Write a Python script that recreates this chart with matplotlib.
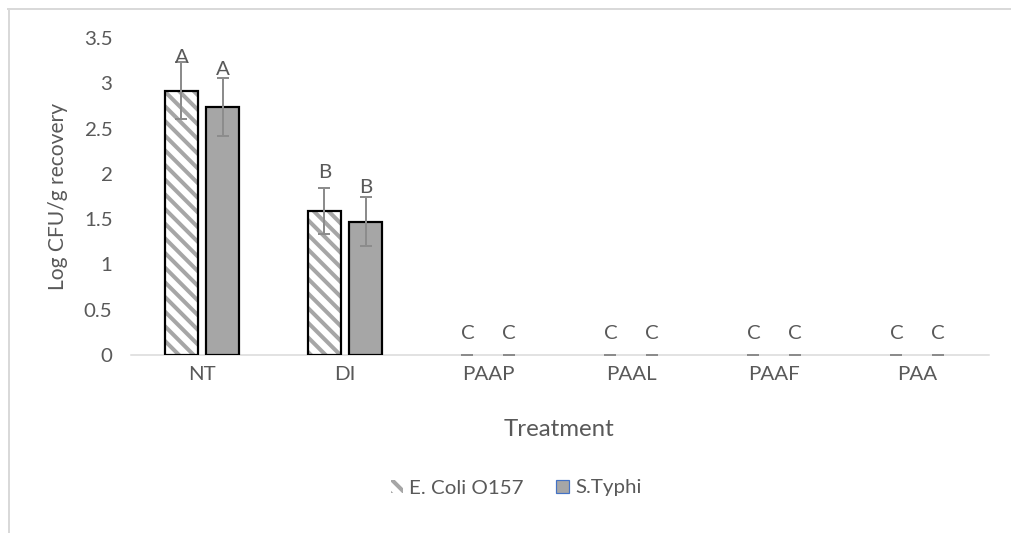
import matplotlib
matplotlib.use("Agg")
import matplotlib.pyplot as plt
import numpy as np
from matplotlib.lines import Line2D
from matplotlib.patches import Patch

categories = ["NT", "DI", "PAAP", "PAAL", "PAAF", "PAA"]
ecoli = [2.92, 1.59, 0, 0, 0, 0]
ecoli_err = [0.31, 0.25, 0, 0, 0, 0]
styphi = [2.74, 1.47, 0, 0, 0, 0]
styphi_err = [0.32, 0.27, 0, 0, 0, 0]
ecoli_letters = ["A", "B", "C", "C", "C", "C"]
styphi_letters = ["A", "B", "C", "C", "C", "C"]
ecoli_letter_y = [3.29, 2.01, 0.24, 0.24, 0.24, 0.24]
styphi_letter_y = [3.15, 1.85, 0.24, 0.24, 0.24, 0.24]
yticks = [0, 0.5, 1, 1.5, 2, 2.5, 3, 3.5]
ytick_labels = ["0", "0.5", "1", "1.5", "2", "2.5", "3", "3.5"]

DPI = 132
W, H = 1011, 533
def pt(px):
    return px * 72.0 / DPI

plt.rcParams['font.family'] = ['Lato', 'DejaVu Sans']
plt.rcParams['hatch.linewidth'] = 2.2
plt.rcParams['hatch.color'] = '#a6a6a6'

fig = plt.figure(figsize=(W / DPI, H / DPI), dpi=DPI)
ax = fig.add_axes([130.5 / W, 178 / H, 858 / W, 317 / H])

text_col = '#595959'
x = np.arange(len(categories))
bw = 0.232
gap = 0.056
xe = x - (bw + gap) / 2
xs = x + (bw + gap) / 2

ec_edges = ['black' if v > 0 else 'none' for v in ecoli]
st_edges = ['black' if v > 0 else 'none' for v in styphi]
hatch_edges = ['#a6a6a6' if v > 0 else 'none' for v in ecoli]

HATCH = '\\\\\\'
ax.bar(xe, ecoli, bw, color='white', edgecolor=hatch_edges, hatch=HATCH, linewidth=0, zorder=2)
ax.bar(xe, ecoli, bw, fill=False, edgecolor=ec_edges, linewidth=pt(2.2), zorder=3)
ax.bar(xs, styphi, bw, color='#a6a6a6', edgecolor=st_edges, linewidth=pt(2.2), zorder=3)

ax.errorbar(xe, ecoli, yerr=ecoli_err, fmt='none', ecolor='#8c8c8c', elinewidth=pt(2),
            capsize=pt(6), capthick=pt(2), zorder=4)
ax.errorbar(xs, styphi, yerr=styphi_err, fmt='none', ecolor='#8c8c8c', elinewidth=pt(2),
            capsize=pt(6), capthick=pt(2), zorder=4)

fs = pt(20.5)
for xi, yi, t in zip(xe, ecoli_letter_y, ecoli_letters):
    ax.text(xi, yi, t, ha='center', va='center', fontsize=fs, color=text_col, zorder=5)
for xi, yi, t in zip(xs, styphi_letter_y, styphi_letters):
    ax.text(xi, yi, t, ha='center', va='center', fontsize=fs, color=text_col, zorder=5)

ax.set_xlim(-0.5, len(categories) - 0.5)
ax.set_ylim(0, 3.5)
ax.set_yticks(yticks)
ax.set_yticklabels(ytick_labels)
ax.set_xticks(x)
ax.set_xticklabels(categories)
ax.tick_params(axis='both', length=0, labelsize=fs, labelcolor=text_col)
ax.tick_params(axis='y', pad=pt(18))
ax.tick_params(axis='x', pad=pt(11))
for s in ['top', 'right', 'left']:
    ax.spines[s].set_visible(False)
ax.spines['bottom'].set_color('#d9d9d9')
ax.spines['bottom'].set_linewidth(pt(1.5))
ax.spines['bottom'].set_zorder(1)

ax.set_ylabel("Log CFU/g recovery", fontsize=pt(21), color=text_col, labelpad=pt(16))
ax.set_xlabel("Treatment", fontsize=pt(24), color=text_col, labelpad=pt(36))

handles = [Patch(facecolor='white', edgecolor='#a6a6a6', hatch=HATCH, linewidth=0),
           Patch(facecolor='#a6a6a6', edgecolor='#4472c4', linewidth=pt(1.2))]
fig.legend(handles, ["E. Coli O157", "S.Typhi"], loc='center',
           bbox_to_anchor=(516 / W, 1 - 488 / H), ncol=2, frameon=False,
           fontsize=fs, labelcolor=text_col, handlelength=0.6, handleheight=0.6,
           handletextpad=0.3, columnspacing=1.6)

fig.add_artist(Line2D([8.5 / W, 8.5 / W], [0, 1 - 9 / H], transform=fig.transFigure,
                      color='#d9d9d9', linewidth=pt(2)))
fig.add_artist(Line2D([8 / W, 1], [1 - 9 / H, 1 - 9 / H], transform=fig.transFigure,
                      color='#d9d9d9', linewidth=pt(2)))

fig.savefig("out.png", dpi=DPI)
